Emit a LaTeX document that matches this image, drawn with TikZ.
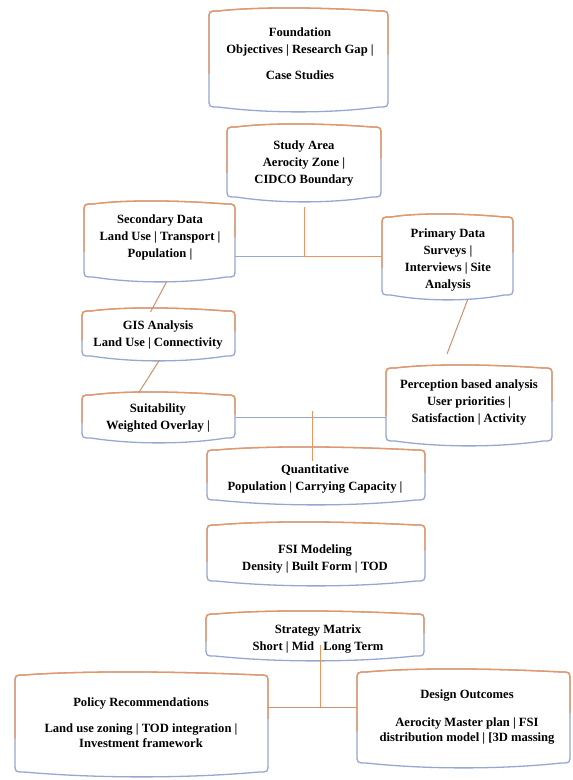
\documentclass[tikz,border=0pt]{standalone}
\usepackage{fontspec}
\setmainfont{Liberation Serif}
\usetikzlibrary{calc}
\definecolor{orn}{RGB}{236,150,95}
\definecolor{blu}{RGB}{150,168,208}
\definecolor{brn}{RGB}{205,145,110}
\tikzset{
  boxn/.style={inner sep=0pt, outer sep=0pt},
  txt/.style={inner sep=0pt, align=center, text=black, font=\bfseries\fontsize{12.6}{17}\selectfont},
  txtb/.style={txt, font=\bfseries\fontsize{12.6}{15}\selectfont},
  edgeB/.style={draw=blu, line width=1.3pt, line join=round, line cap=round},
  edgeO/.style={draw=orn, line width=1.3pt, line join=round, line cap=round},
  lnO/.style={draw=orn, line width=1pt},
  lnB/.style={draw=blu, line width=1pt},
  lnM/.style={draw=brn, line width=1pt},
}
\newcommand{\wbox}[1]{%
  \draw[edgeB] let \p1=(#1.south west), \p2=(#1.north east), \n1={\x2-\x1}, \n2={\y2-\y1} in
    (\x1,\y1+9) -- (\x1,\y2-9) .. controls (\x1,\y2) .. (\x1+9,\y2)
    .. controls (\x1+0.3*\n1,\y2+5) and (\x1+0.7*\n1,\y2+3) .. (\x2-9,\y2)
    .. controls (\x2,\y2) .. (\x2,\y2-9) -- (\x2,\y1+9) .. controls (\x2,\y1) .. (\x2-9,\y1)
    .. controls (\x1+0.7*\n1,\y1-6) and (\x1+0.35*\n1,\y1-7) .. (\x1+9,\y1)
    .. controls (\x1,\y1) .. cycle;
  \draw[edgeO] let \p1=(#1.south west), \p2=(#1.north east), \n1={\x2-\x1}, \n2={\y2-\y1} in
    (\x1,\y1+0.35*\n2) -- (\x1,\y2-9) .. controls (\x1,\y2) .. (\x1+9,\y2)
    .. controls (\x1+0.3*\n1,\y2+5) and (\x1+0.7*\n1,\y2+3) .. (\x2-9,\y2)
    .. controls (\x2,\y2) .. (\x2,\y2-9) -- (\x2,\y2-0.45*\n2);
}
\newcommand{\mkbox}[5]{%
  \node[boxn, minimum width={(#4-#2)*1pt}, minimum height={(#5-#3)*1pt}] (#1) at ({(#2+#4)/2},{(#3+#5)/2}) {};
  \wbox{#1}}
\begin{document}
\begin{tikzpicture}[x=1pt,y=-1pt]
\useasboundingbox (0,0) rectangle (573,780);
\fill[white] (0,0) rectangle (573,780);

% boxes
\mkbox{found}{209}{11}{388}{107}
\mkbox{study}{227}{127}{381}{197}
\mkbox{sec}{84}{204}{235}{277}
\mkbox{prim}{382}{217}{513}{295}
\mkbox{gis}{82}{311}{235}{356}
\mkbox{perc}{386}{368}{552}{441}
\mkbox{suit}{82}{395}{235}{438}
\mkbox{quant}{207}{450}{425}{500}
\mkbox{fsi}{207}{525}{425}{581}
\mkbox{strat}{206}{614}{424}{656}
\mkbox{policy}{15}{675}{268}{772}
\mkbox{design}{357}{672}{570}{763}

% texts
\node[txt] (foundT) at (300,54) {Foundation\\Objectives | Research Gap |\\[9pt]Case Studies};
\node[txt] (studyT) at (304,163.5) {Study Area\\Aerocity Zone |\\CIDCO Boundary};
\node[txt] (secT) at (160,237) {Secondary Data\\Land Use | Transport |\\Population |};
\node[txt] (primT) at (448,259.5) {Primary Data\\Surveys |\\Interviews | Site\\Analysis};
\node[txt] (gisT) at (158,334.5) {GIS Analysis\\Land Use | Connectivity};
\node[txt] (percT) at (469,402.5) {Perception based analysis\\User priorities |\\Satisfaction | Activity};
\node[txt] (suitT) at (158,418.5) {Suitability\\Weighted Overlay |};
\node[txt] (quantT) at (315,479.5) {Quantitative\\Population | Carrying Capacity |};
\node[txt] (fsiT) at (315,559) {FSI Modeling\\Density | Built Form | TOD};
\node[txt] (stratT) at (318,639.5) {Strategy Matrix\\Short | Mid\phantom{ | }Long Term};
\node[txtb] (policyT) at (141,723) {Policy Recommendations\\[11pt]Land use zoning | TOD integration |\\Investment framework};
\node[txtb] (designT) at (467,717) {Design Outcomes\\[13pt]Aerocity Master plan | FSI\\distribution model | [3D massing};

% junction coordinates
\coordinate (j1) at (304,256);
\coordinate (j2) at (312,417);
\coordinate (t2) at (312,411);
\coordinate (q2) at (312,461);
\coordinate (j4) at (320,707);
\coordinate (t4) at (320,645);

% connectors
\draw[lnO] ($(study.south)+(0,10)$) -- (j1);
\draw[lnB] (sec.east |- j1) -- (j1);
\draw[lnO] (j1) -- (prim.west |- j1);
\draw[lnM] ($(sec.south)+(7,5)$) -- ($(gis.north)+(-8,1)$);
\draw[lnM] ($(gis.south)+(1,4)$) -- ($(suit.north)+(-20,-2)$);
\draw[lnM] ($(prim.south)+(20,5)$) -- ($(perc.north)+(-22,-14)$);
\draw[lnB] (suit.east |- j2) -- (perc.west |- j2);
\draw[lnO] (t2) -- (q2);
\draw[lnO] (t4) -- (j4);
\draw[lnM] (policy.east |- j4) -- (design.west |- j4);
\end{tikzpicture}
\end{document}
